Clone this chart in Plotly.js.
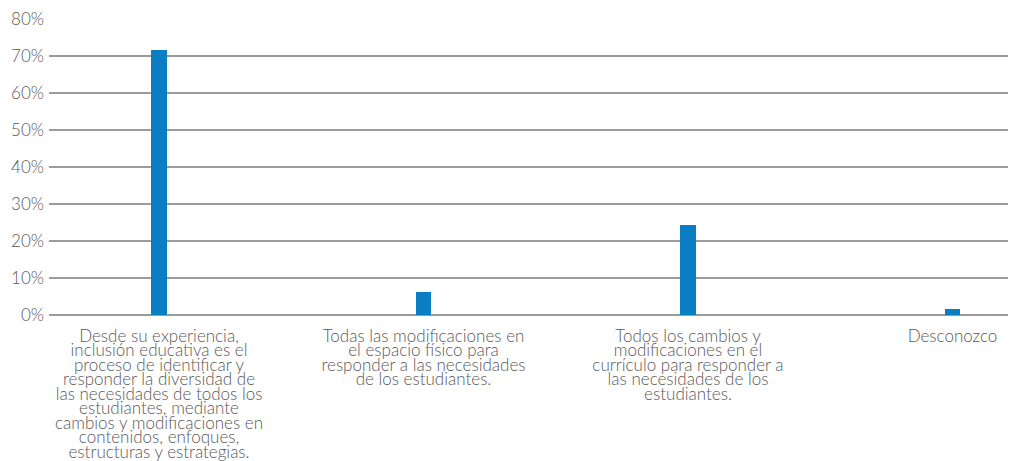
<!DOCTYPE html>
<html>
<head>
<meta charset="utf-8">
<script src="https://cdn.plot.ly/plotly-3.0.1.min.js"></script>
<style>
html,body{margin:0;padding:0;background:#fff;}
#chart{width:1010px;height:461px;}
</style>
</head>
<body>
<div id="chart"></div>
<script>
const categories = [
  "Desde su experiencia,<br>inclusión educativa es el<br>proceso de identificar y<br>responder la diversidad de<br>las necesidades de todos los<br>estudiantes, mediante<br>cambios y modificaciones en<br>contenidos, enfoques,<br>estructuras y estrategias.",
  "Todas las modificaciones en<br>el espacio físico para<br>responder a las necesidades<br>de los estudiantes.",
  "Todos los cambios y<br>modificaciones en el<br>currículo para responder a<br>las necesidades de los<br>estudiantes.",
  "Desconozco"
];
const values = [0.716, 0.061, 0.243, 0.015];
const yTickVals = [0, 0.1, 0.2, 0.3, 0.4, 0.5, 0.6, 0.7, 0.8];

const font = "Lato, 'Open Sans', sans-serif";
const trace = {
  type: "bar",
  x: categories,
  y: values,
  width: 0.06,
  marker: {color: "#0a7ec2"},
  hoverinfo: "none"
};
const layout = {
  width: 1010,
  height: 461,
  margin: {l: 49, r: 2, t: 19, b: 146},
  paper_bgcolor: "#fff",
  plot_bgcolor: "#fff",
  showlegend: false,
  font: {family: font, color: "#595959", size: 16, weight: 300},
  bargap: 0,
  xaxis: {
    type: "category",
    range: [-0.416, 3.21],
    showgrid: false,
    zeroline: false,
    showline: false,
    ticks: "",
    ticklabelstandoff: 9,
    tickfont: {family: font, size: 17, color: "#595959", weight: 300},
    tickangle: 0,
    automargin: false
  },
  yaxis: {
    range: [0, 0.8],
    tickvals: yTickVals,
    tickformat: ".0%",
    showgrid: true,
    gridcolor: "#9b9b9e",
    gridwidth: 2,
    zeroline: true,
    zerolinecolor: "#9b9b9e",
    zerolinewidth: 2,
    showline: false,
    ticks: "",
    ticklabelstandoff: 4,
    tickfont: {family: font, size: 17, color: "#595959", weight: 300},
    automargin: false
  }
};
Plotly.newPlot("chart", [trace], layout, {displayModeBar: false, staticPlot: true}).then(function(gd){
  gd.querySelectorAll(".xtick text tspan.line").forEach(function(t){
    const dy = parseFloat(t.getAttribute("dy") || "0");
    t.setAttribute("dy", (dy / 1.3 * 0.85) + "em");
  });
});
</script>
</body>
</html>
